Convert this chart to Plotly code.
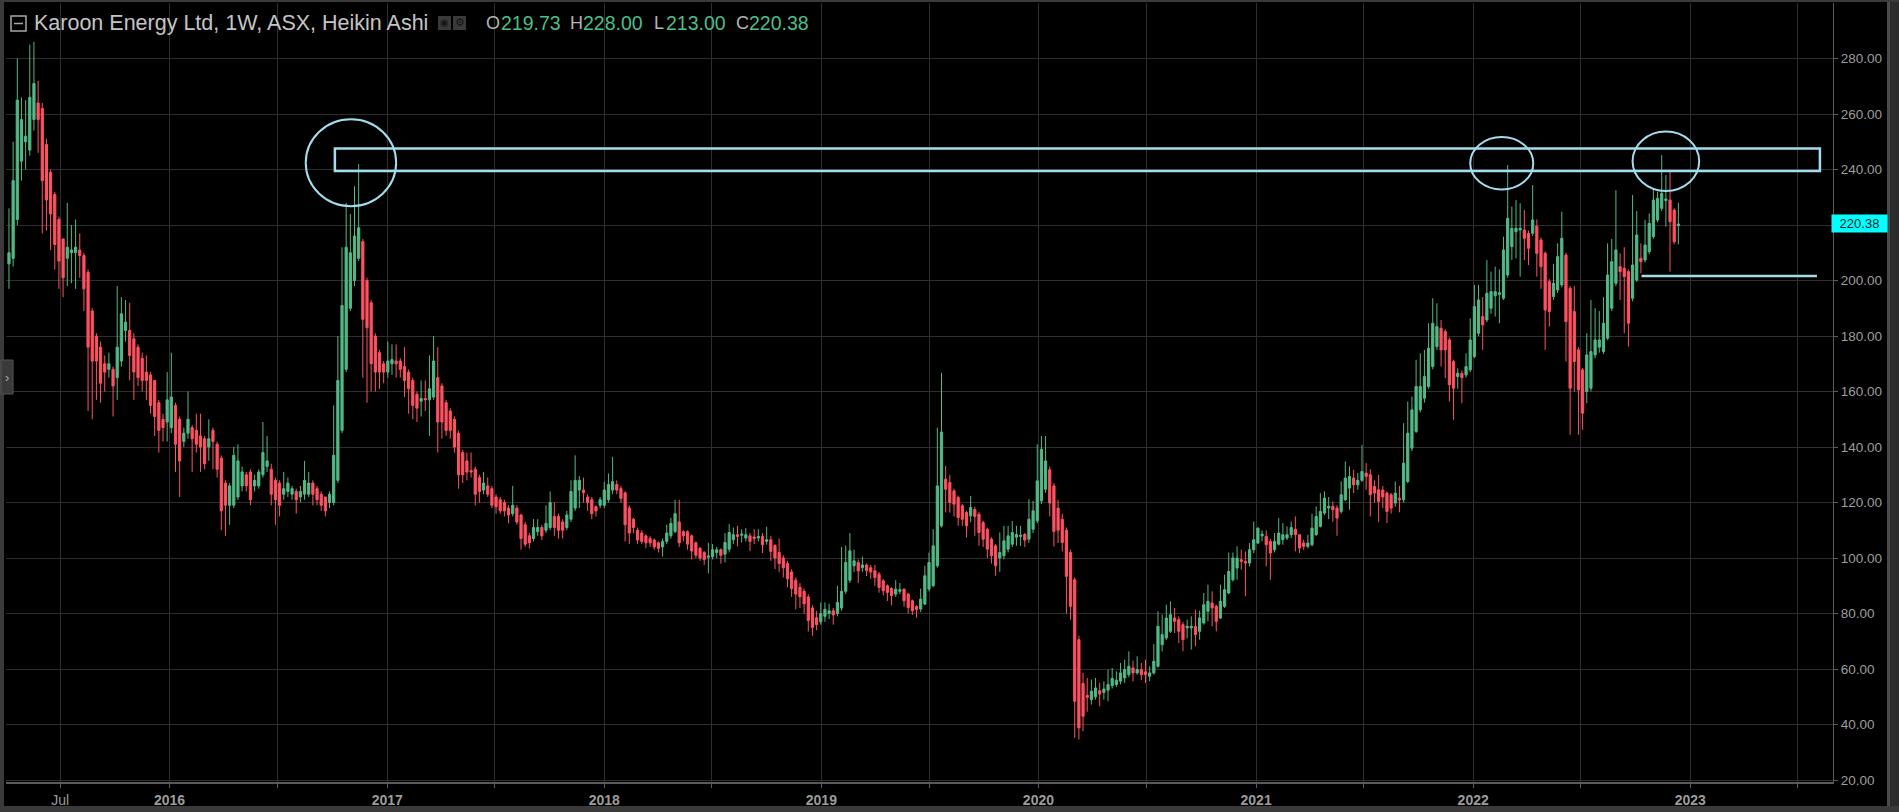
import pandas as pd
import plotly.graph_objects as go

# ---------------- data (weekly Heikin Ashi candles, from 2015-04-06) ----------------
start_date = "2015-04-06"

ha_open = [
    206,208,222,243,250,247,258,264,262,249,
    239,231,222,215,208,210,210,211,209,203,
    189,180,176,170,168,168,165,171,182,182,
    179,176,172,167,166,164,156,150,149,147,
    155,150,142,145,147,146,144,143,140,146,
    141,136,127,119,119,122,126,130,131,126,
    126,130,133,132,128,127,123,124,123,124,
    122,123,123,127,125,123,122,120,120,128,
    146,168,190,200,208,214,200,192,180,174,
    170,167,
    170,171,171,169,167,164,159,156.5,157.5,157,
    158,165,162,156,153,150,145,138,135,131.5,
    132,129,124.5,126,125,122,121,120,118,116,
    118,115.5,112,108,107,109.5,111,110,111,115,
    115,113,111,114,118,124.5,124.5,122,121,118.5,
    119,119,121,124.5,126.5,125,123.5,118,114,110,
    109,108,107,106.5,105.5,104,106,108,109.5,113,
    109.5,109.5,108,105.5,103.5,102,100.3,100.5,102,103,
    101.4,103.2,106.6,108.4,108.2,107.2,108,107.6,107.2,107.8,
    106,106.6,104.5,102,100,98,95,92,89.5,88,
    86,82,78.5,77,79,80,81,80,82,88,
    92,97.2,98.4,96.5,97.5,96.5,95.4,94.2,91.8,90,
    89,87,88,88.8,87,84.6,82.5,81.6,83.4,88.8,
    90,97.2,111.6,128.4,127.2,124.2,121.8,118.8,116.4,115.2,
    117.5,115.8,112.8,110.4,106.8,104.4,100,100.8,103.2,105,
    107.5,107.8,108.5,106.8,110.4,113.4,120.6,124.8,131.8,126,
    118,114,110,102,92.2,70.6,54.8,50.5,49,50,
    52.2,51.6,52.4,54,54.4,55.6,56.8,58,60.4,58.6,
    59.8,59,57.4,58.6,61,68.8,71.2,73.6,78.4,77.8,
    76,74.8,74.8,75.4,73.6,76.6,80.8,83.8,82.6,78.4,
    82.6,87.4,92.2,96.4,99.4,98.8,98.2,103,105.4,108,
    107.8,106,103,105,106.6,107.2,108.4,110.4,108.4,105.4,
    104.2,104.8,108.4,111.4,116.2,118,118.6,118,116.8,121,
    125.2,128.8,126.4,128,130.6,130,125.8,
    124.6,124.5,123.4,122.8,119.8,121.5,121,127.6,139.6,145.6,
    153.4,157.6,161.8,169,176.2,182.8,181.6,178.6,170.8,165.4,
    166.5,166,167.8,172.6,181,187,185.8,190,194.5,195,
    193.6,202,212.2,217.6,218.2,218.2,217,217,219.6,214.6,
    209.8,199.6,194.2,196.6,198.4,209.2,197.2,188.8,175,167.8,
    160,161.2,173.2,176,174.4,179.2,190,199,205,204.4,
    203.2,193.6,200.2,208,207.4,210.4,215.8,221.8,226,228.8,
    229,225.4,219.73,
]

ha_high = [
    226,250,280,266,265,285,286,272,264,251,
    240,232,223,215,228,220,222,217,210,204,
    190,181,178,173,174,169,198,194,193,192,
    181,177,174,173,167,164,157,152,167,174,
    156,151,147,160,148,152,152,144,150,147,
    142,137,128,127,140,141,133,131,132,130,
    132,149,144,134,129,128,131,129,126,125,
    126,135,131,128,126,124,122,124,155,180,
    212,228,224,234,242,215,201,193,181,175,
    171,178,
    177,177,172,176,168,165,160,164,164,173,
    180,176,163,157,154,151,146,139,138,138,
    133,130,131,129,126,123,122,121,119,126,
    119,116,113,109,114,114,112,119,124,120,
    116,114,117,128,137,129.5,129,123,122,119,
    122,127.5,130.5,136.5,128,126,124,119,114.5,111,
    110,108.5,108,107,106,107,112,114.5,121,121,
    110,110,108.5,106,104,102.5,105.5,105,104,103.5,
    109,112.2,111,111.6,110.4,110.8,109,110.4,110.4,109,
    111.3,108,105,107,101,99,96,93,91,89,
    87,83,81,84,84,83.5,82,90,104,104.5,
    109,103,99.5,100.5,98,97.5,97.5,95,92.5,90.5,
    89.5,92,91,89,87.5,85,83,89,97.2,102,
    110.4,147,166.8,133.2,130,125,122.5,119.5,117,122.4,
    118.5,116.5,113.5,111,107.5,105,109.2,111.6,111.6,113.4,
    111.6,111.6,109,121.2,120.6,141,144,144,133,127,
    121,116,111,103,93,72,58.6,56.8,56.2,56.8,
    55,55.6,59.8,60.4,59.2,62.2,63.4,66.4,63,64.6,
    62.2,63.4,61,69,80.8,79.6,83.2,84.4,82,79,
    77,77.8,79,81.4,81,87.4,90.4,88,83.2,90.4,
    94,102,102,104.2,103,102.4,105.4,113.2,111,110,
    110,107,109,114.4,112.6,111.4,113.2,115,106.6,106.6,
    108.4,116,118.6,123.4,124,122,120.4,119,127.6,134.8,
    133,131.8,130.6,140.8,134.2,132,128,
    130,126,124,123.5,127.6,126,148.6,156.4,158.2,171.4,
    173.8,175,184.6,193.6,191.8,185.8,182.5,179.5,171.5,168.4,
    167.5,173.8,186.4,198.4,198.4,194,207.4,203.2,205,204,
    215.8,241.6,226.6,229,227.8,225.4,218,234.4,222,215.5,
    210.5,200.5,206,213.4,224.8,210,198,198,176,168.5,
    181,193,190,189,194,213.4,215,232.6,209.8,212,
    204,230.8,225,213.4,221.8,224.2,232.6,232,245.2,238,
    239.8,226,228,
]

ha_low = [
    197,205,220,236,240,245,254,246,217,218,
    211,204,197,194,198,199,197,201,189,153,
    150,157,156,160,165,151,157,169,178,164,
    157,162,160,157,152,144,138,142,142,145,
    131,122,140,143,131,138,131,132,135,132,
    129,110,108,112,118,121,124,124,119,124,
    125,129,131,119,112,115,121,122,121,116,
    120,121,122,119,119,117,115,118,119,127,
    145,167,189,198,207,165,156,160,160,161,
    163,165,
    166,165,165,158,152,150,149,151,153,144,
    157,138,143,144,143,138,125,127,128,129,
    119,120,123,122,118,116,116,115,112.5,115,
    112,103,104,103.5,106,108,106.5,109,110,108,
    107,107,110,113,117,118,120,117,114,115,
    118,118,120,123,123,120,106,105,109,105,
    105,103.5,104,103,102,100.5,105,107,109,104,
    106,103,99.5,100,99,97.5,94.5,99.5,100,98,
    98.4,102,105,104.2,105.6,106,102.5,105,106,101.8,
    104.8,99,96,95,93,89.5,86,81.5,82,80,
    73.5,72,74,76,77,78,76,79,81,87,
    91,95,91,95,93.5,92.5,90,87.5,86.5,84.5,
    83,86,87,82.5,80,79.5,78.5,80.5,83,88,
    89.5,96.5,111,116.4,116.4,115,111.6,111.6,107.4,113,
    108,104.4,104,100,98,93.6,95,99.5,102,104,
    104.4,104.4,104,105.5,109,112.5,119.5,123.5,115,104.2,
    105.4,102.4,80,77.8,35.2,34.6,37.6,44.6,47.2,49,
    46.6,49,48.4,53,53.5,54.5,55,57,55.6,58,
    56,55,55.6,58,60.5,66.4,70.5,73,73,69.4,
    66.4,71,67,68.2,70.6,76,77.2,75.4,73.6,78,
    82,87,91.5,92.2,95.8,86.2,97,101.8,105,106,
    97,92.2,102,104.5,104.8,106.5,107.2,102.4,101.8,103,
    103.5,104.2,108,111,115.5,114,113,108,116,120.5,
    117.4,123.4,124.6,127.5,124.6,115,120,
    113,118,112.6,116,118.5,116.5,120,127,138.5,145,
    152.5,156,161,168,175,169,164.8,156.4,149.8,161,
    155.8,165,167,172,180,175,185,188,187,184.6,
    193,201,207.4,208,201.4,207.4,205.6,216,201.4,197,
    175,183.4,193,195.5,197.5,170.8,144.4,160,144.4,146.2,
    155.8,160,172,174,173.5,178.5,189,198,193,181,
    176.2,192.5,199.5,202.6,206.5,209.5,215,221,225,219.4,
    203.2,213,213,
]

ha_close = [
    210,236,265,258,252,266,271,258,236,229,
    224,213,207,201,212,211,212,209,197,176,
    171,171,163,167,170,162,176,188,185,173,
    167,165,164,164,155,151,146,147,157,158,
    141,135,145,150,143,141,140,134,143,142,
    132,117,119,126,137,135,131,126,121,128,
    131,138,135,123,121,119,125,127,125,121,
    124,128,127,123,121,119,117,123,137,164,
    191,212,210,216,219,186,183,170,167,167,
    167,171,
    171.5,170,168,164,161,155,154,157.5,157,161,
    171,149,149,146,146,140,130,130,131,131,
    123,124,127,123,119,118.5,117,117,115.5,119,
    113,107,105,105.5,111,111,108,112.5,120,111,
    110,110,115.5,124,128,128,123.5,120,116,117,
    121,124.5,126.5,127.5,124.5,121.5,112,109,111,106.5,
    106,105.5,105.5,104,103.5,106,109,112.5,116,105.5,
    108,105,102.5,101,100,99.5,100.7,103,103,101,
    105.6,109.2,108.4,107.8,108.6,108.4,106,107,107.8,104.8,
    106.6,102.4,100,98,96.5,92.5,89,87,86,83.5,
    77.5,75,76,80,81.5,81,79.5,84,88,98.4,
    102.6,99,95.4,97.5,95.5,95,93,89.4,88.2,87.6,
    86.5,88.8,88.6,84.6,82.2,81,81.5,85.2,93.6,98.4,
    104.4,126,145.4,124.8,120,119.4,114.6,114,111.6,118.2,
    115,109.2,106.8,103.2,100.8,97.2,102,106.2,108,109.2,
    108.5,108.2,106.5,114,117,127.8,139.2,135,119.8,109.6,
    110,105.6,93.4,82.6,48.4,38.8,43,49.8,52,53.2,
    51,52.8,54.4,56.6,56,58.6,59.8,61,58.6,59.8,
    58,58,58.6,62.8,75.4,72.4,78.4,79.6,77.2,73.6,
    70.6,75.4,75.4,72.4,78.4,83.2,84.4,82,77.2,84.4,
    88.6,95.2,100,100,98.8,98.2,103,106.6,110.8,108.6,
    104.8,101.8,106,109,108.4,108.4,111,108.4,103.6,104.2,
    105.4,110.8,115,116.8,121.6,118.6,117.4,114.4,122.8,128.8,
    129.4,126.4,128,131.2,129.4,122.8,123.4,
    120.4,122,116.8,118,123.4,121,134.2,145,153.4,161.8,
    161.8,165.4,175.6,184.6,183.4,175,175,162.4,161.2,166.6,
    165,169,178.6,190.6,193,184,195.4,196,196,195.6,
    211,222.4,218.8,218.8,218.8,215.2,211.6,221.8,209.8,205,
    189.4,188.8,199,208.6,215.2,185.2,161.2,170.8,160.6,152.2,
    173.2,174.4,178.6,178.6,184.6,202,206.8,211,203.2,201.4,
    184.6,205.6,216.4,206.8,212.8,220.6,229,229.6,231.4,229.4,
    221.2,214,220.38,
]

y_ticks = [20, 40, 60, 80, 100, 120, 140, 160, 180, 200, 220, 240, 260, 280]
x_tick_dates = ["2015-07-01", "2016-01-01", "2016-07-01", "2017-01-01", "2017-07-01",
                "2018-01-01", "2018-07-01", "2019-01-01", "2019-07-01", "2020-01-01",
                "2020-07-01", "2021-01-01", "2021-07-01", "2022-01-01", "2022-07-01",
                "2023-01-01", "2023-07-01"]
x_tick_text = ["Jul", "<b>2016</b>", "", "<b>2017</b>", "", "<b>2018</b>", "",
               "<b>2019</b>", "", "<b>2020</b>", "", "<b>2021</b>", "", "<b>2022</b>", "",
               "<b>2023</b>", ""]

title_text = "Karoon Energy Ltd, 1W, ASX, Heikin Ashi"

n = len(ha_close)
assert len(ha_open) == n and len(ha_high) == n and len(ha_low) == n, (len(ha_open), len(ha_high), len(ha_low), n)
dates = pd.date_range(start_date, periods=n, freq="7D")

# ---------------- styling ----------------
GREEN = "#53B987"
RED = "#FF5262"
ANNO = "#A3DCEC"
GRID = "#2E2E2E"
AXIS_TXT = "#9C9C9C"
W, H = 1899, 812
PL, PR, PT, PB = 6, 1833, 3, 782


def fx(p):
    return (p - PL) / (PR - PL)


def fy(p):
    return (PB - p) / (PB - PT)


fig = go.Figure()
fig.add_trace(go.Candlestick(
    x=dates, open=ha_open, high=ha_high, low=ha_low, close=ha_close,
    increasing=dict(line=dict(color=GREEN, width=1), fillcolor=GREEN),
    decreasing=dict(line=dict(color=RED, width=1), fillcolor=RED),
    whiskerwidth=0, showlegend=False, hoverinfo="skip",
))

shapes = []
# annotations drawn on the chart (rectangle zone, circles, support line)
shapes.append(dict(type="rect", xref="x", yref="y", x0="2016-10-05", x1="2023-08-07",
                   y0=239.5, y1=247.6, line=dict(color=ANNO, width=2.5), fillcolor="rgba(0,0,0,0)"))
shapes.append(dict(type="circle", xref="x", yref="y", x0="2016-08-17", x1="2017-01-16",
                   y0=226.8, y1=258.1, line=dict(color=ANNO, width=2)))
shapes.append(dict(type="circle", xref="x", yref="y", x0="2021-12-27", x1="2022-04-12",
                   y0=232.8, y1=251.7, line=dict(color=ANNO, width=2)))
shapes.append(dict(type="circle", xref="x", yref="y", x0="2022-09-26", x1="2023-01-16",
                   y0=232.3, y1=253.7, line=dict(color=ANNO, width=2)))
shapes.append(dict(type="line", xref="x", yref="y", x0="2022-10-11", x1="2023-08-02",
                   y0=201.6, y1=201.6, line=dict(color=ANNO, width=2.5)))


def prect(x0, x1, y0, y1, fill, line=None, lw=0):
    d = dict(type="rect", xref="paper", yref="paper", x0=fx(x0), x1=fx(x1), y0=fy(y1), y1=fy(y0),
             fillcolor=fill, layer="above")
    d["line"] = dict(color=line, width=lw) if line else dict(width=0)
    return d


# frame decorations
shapes.append(prect(0, 4, 0, 812, "#3A3A3A"))
shapes.append(prect(1887, 1899, 0, 812, "#2B2B2B"))
shapes.append(prect(1887, 1890, 0, 812, "#4A4A4A"))
shapes.append(prect(0, 1899, 0, 2, "#3A3A3A"))
shapes.append(prect(0, 1899, 806, 812, "#3A3A3A"))
shapes.append(prect(1, 13, 360, 394, "#3A3A3A", "#555555", 1))
# title icon
shapes.append(prect(11, 26, 16, 31, "rgba(0,0,0,0)", "#A8A8A8", 1.5))
shapes.append(dict(type="line", xref="paper", yref="paper", x0=fx(14), x1=fx(23), y0=fy(23.5), y1=fy(23.5),
                   line=dict(color="#A8A8A8", width=1.5)))
shapes.append(prect(438, 451, 16, 30, "#3A3A3A"))
shapes.append(prect(453, 466, 16, 30, "#3A3A3A"))

annotations = []
FONT = "Liberation Sans, Arial, sans-serif"
annotations.append(dict(xref="paper", yref="paper", x=fx(32), y=fy(23), xanchor="left", yanchor="middle",
                        text=title_text, showarrow=False,
                        font=dict(family=FONT, size=21.5, color="#C4C4C4")))
annotations.append(dict(xref="paper", yref="paper", x=fx(444.5), y=fy(23), xanchor="center", yanchor="middle",
                        text="◉", showarrow=False, font=dict(family="DejaVu Sans", size=10, color="#141414")))
annotations.append(dict(xref="paper", yref="paper", x=fx(459.5), y=fy(23), xanchor="center", yanchor="middle",
                        text="⚙", showarrow=False, font=dict(family="DejaVu Sans", size=11, color="#141414")))
annotations.append(dict(xref="paper", yref="paper", x=fx(7), y=fy(377), xanchor="center", yanchor="middle",
                        text="›", showarrow=False, font=dict(family=FONT, size=13, color="#AAAAAA")))

last = n - 1
ohlc_items = [("O", 484, ha_open[last], 499), ("H", 568, ha_high[last], 581),
              ("L", 652, ha_low[last], 664), ("C", 734, ha_close[last], 747)]
for lab, xl, val, xv in ohlc_items:
    annotations.append(dict(xref="paper", yref="paper", x=fx(xl), y=fy(23), xanchor="left", yanchor="middle",
                            text=lab, showarrow=False, font=dict(family=FONT, size=18, color="#B4B4B4")))
    annotations.append(dict(xref="paper", yref="paper", x=fx(xv), y=fy(23), xanchor="left", yanchor="middle",
                            text=f"{val:.2f}", showarrow=False, font=dict(family=FONT, size=19.5, color="#4DBD8A")))

# last price tag on the price scale
annotations.append(dict(xref="paper", yref="y", x=fx(1831), y=ha_close[last], xanchor="left", yanchor="middle",
                        text=f"{ha_close[last]:.2f}", showarrow=False, bgcolor="#00FFFF", width=53, height=15,
                        borderpad=1, align="center",
                        font=dict(family=FONT, size=13, color="#1E1E1E")))

fig.update_layout(
    width=W, height=H,
    margin=dict(l=PL, r=W - PR, t=PT, b=H - PB, pad=0),
    paper_bgcolor="#000000", plot_bgcolor="#000000",
    showlegend=False, boxgap=0.25,
    shapes=shapes, annotations=annotations,
    xaxis=dict(
        type="date", range=["2015-04-01", "2023-08-29"], rangeslider=dict(visible=False),
        tickmode="array", tickvals=x_tick_dates, ticktext=x_tick_text,
        showgrid=True, gridcolor=GRID, gridwidth=1,
        showline=True, linecolor="#5A5A5A", linewidth=2,
        ticks="outside", ticklen=4, tickcolor="#5A5A5A",
        tickfont=dict(family=FONT, size=14, color=AXIS_TXT),
        zeroline=False, fixedrange=True,
    ),
    yaxis=dict(
        side="right", range=[19.3, 300], tickmode="array", tickvals=y_ticks,
        tickformat=".2f", showgrid=True, gridcolor=GRID, gridwidth=1,
        showline=True, linecolor="#5A5A5A", linewidth=1,
        ticks="outside", ticklen=4, tickcolor="#5A5A5A",
        tickfont=dict(family=FONT, size=13.5, color=AXIS_TXT),
        zeroline=False, fixedrange=True,
    ),
    hovermode=False,
)

fig.write_html(
    "out.html",
    config=dict(displayModeBar=False),
    post_script="document.body.style.margin='0px'; document.body.style.overflow='hidden';",
)
